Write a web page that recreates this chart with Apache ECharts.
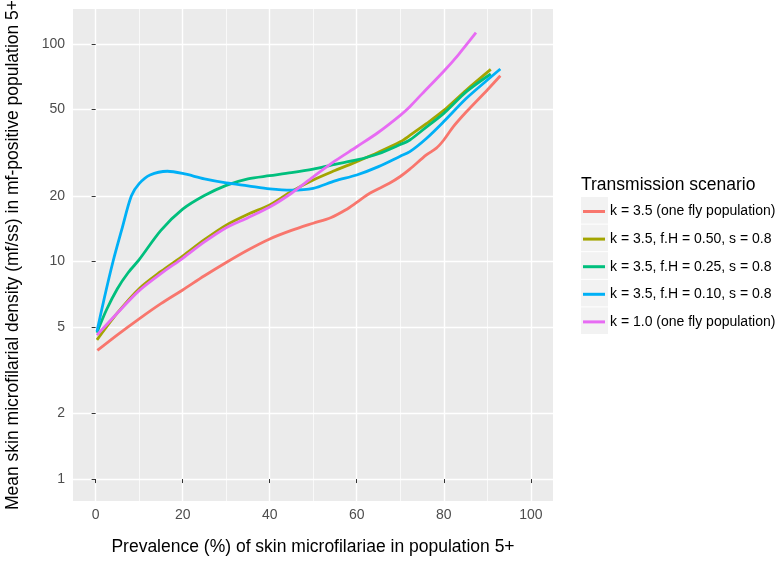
<!DOCTYPE html>
<html lang="en">
<head>
<meta charset="utf-8" />
<title>Skin microfilarial density vs prevalence</title>
<script src="https://cdn.jsdelivr.net/npm/echarts@6/dist/echarts.min.js"></script>
</head>
<body style="margin:0;background:#FFFFFF">
<div id="chart" style="width:777px;height:565px"></div>
<script>
// tick labels
const xTicks = [0, 20, 40, 60, 80, 100]
const xMinor = [10, 30, 50, 70, 90]
const yTicks = [1, 2, 5, 10, 20, 50, 100]

const scenarios = [
    'k = 3.5 (one fly population)',
    'k = 3.5, f.H = 0.50, s = 0.8',
    'k = 3.5, f.H = 0.25, s = 0.8',
    'k = 3.5, f.H = 0.10, s = 0.8',
    'k = 1.0 (one fly population)'
]
const colors = ['#F8766D', '#A3A500', '#00BF7D', '#00B0F6', '#E76BF3']

// [prevalence %, mean density]
const k35OneFly = [[0.4, 3.9], [5, 4.6], [10, 5.45], [15, 6.4], [20, 7.4], [25, 8.6], [30, 9.9], [35, 11.3],
    [40, 12.7], [45, 13.9], [50, 15.0], [54, 15.9], [57.5, 17.3], [60, 18.7], [63, 20.6], [67.5, 22.9],
    [70, 24.6], [72.2, 26.6], [76, 30.9], [78.3, 33.2], [80, 36.2], [82.2, 41.7], [85.2, 48.8], [90, 61.5], [93, 71.5]]
const k35fH050 = [[0.3, 4.36], [5, 5.8], [10, 7.5], [15, 9.0], [20, 10.6], [25, 12.6], [30, 14.7], [35, 16.5],
    [40, 18.2], [45, 21.0], [50, 23.7], [55, 26.2], [60, 28.8], [65, 31.8], [70, 35.5], [72.2, 38],
    [76, 43], [80, 49.5], [85.2, 61.5], [90.8, 76.5]]
const k35fH025 = [[0.3, 4.71], [2.5, 6.0], [5, 7.5], [7.5, 8.9], [10, 10.2], [15, 13.9], [20, 17.4], [25, 20.1],
    [30, 22.4], [35, 24.0], [40, 24.8], [45, 25.6], [50, 26.6], [55, 28.0], [60, 29.3], [65, 31.3],
    [70, 34.5], [72.2, 36.2], [76, 41.5], [80, 48], [85.2, 60.4], [90.8, 72.8]]
const k35fH010 = [[0.3, 4.76], [2, 6.8], [4, 10], [6, 14], [8.2, 20], [10, 22.8], [12.5, 25.0], [16.5, 26.0],
    [20, 25.4], [25, 24.0], [30, 23.0], [35, 22.3], [40, 21.6], [45, 21.3], [50, 21.7], [55, 23.5],
    [60, 25.0], [65, 27.3], [70, 30.5], [72.2, 32], [76, 36.8], [80, 44], [85.2, 56.3], [90, 68.3], [93, 76.8]]
const k10OneFly = [[0.3, 4.59], [5, 5.8], [10, 7.35], [15, 8.8], [20, 10.35], [25, 12.3], [30, 14.3], [35, 15.9],
    [40, 17.8], [45, 20.6], [50, 24.5], [55, 29.0], [60, 33.7], [65, 39.3], [70, 47], [72.2, 51.5],
    [75, 59], [80, 75], [83.3, 89], [87.4, 112.7]]

const seriesData = [k35OneFly, k35fH050, k35fH025, k35fH010, k10OneFly]

const log10 = v => Math.log(v) / Math.LN10
const yTickLogs = yTicks.map(log10)

let chart = echarts.init(document.getElementById('chart'), null, { renderer: 'canvas' })

// grey key backgrounds like ggplot's legend keys
const keyBoxes = scenarios.map((s, i) => ({
    type: 'rect',
    left: 581,
    top: 197 + i * 27.6,
    shape: { width: 27, height: 26.6 },
    style: { fill: '#F2F2F2' },
    silent: true
}))

let option = {
    animation: false,
    color: colors,
    title: {
        text: 'Transmission scenario',
        left: 576,
        top: 171,
        textStyle: { fontFamily: 'Liberation Sans', fontSize: 17.5, fontWeight: 'normal', color: '#000' }
    },
    graphic: keyBoxes,
    legend: {
        orient: 'vertical',
        left: 583,
        top: 204,
        padding: 0,
        itemWidth: 22,
        itemHeight: 3,
        itemGap: 12.6,
        icon: 'rect',
        data: scenarios,
        textStyle: { fontFamily: 'Liberation Sans', fontSize: 14, color: '#000', lineHeight: 15 }
    },
    grid: {
        left: 73, top: 9, width: 480, height: 492,
        show: true, backgroundColor: '#EBEBEB', borderWidth: 0,
        outerBoundsMode: 'none'
    },
    xAxis: [{
        type: 'value',
        min: -5.2, max: 105.1,
        name: 'Prevalence (%) of skin microfilariae in population 5+',
        nameLocation: 'middle',
        nameGap: 37,
        nameTextStyle: { fontFamily: 'Liberation Sans', fontSize: 17.5, color: '#000' },
        axisLine: { show: false },
        axisTick: { show: true, customValues: xTicks, length: 4, lineStyle: { color: '#333333', width: 1 } },
        axisLabel: { customValues: xTicks, margin: 7, fontFamily: 'Liberation Sans', fontSize: 14, color: '#4D4D4D' },
        splitLine: { show: true, lineStyle: { color: '#FFFFFF', width: 1.4 } }
    }, {
        type: 'value',
        min: -5.2, max: 105.1,
        axisLine: { show: false },
        axisTick: { show: false, customValues: xMinor },
        axisLabel: { show: false, customValues: xMinor },
        splitLine: { show: true, lineStyle: { color: '#FFFFFF', width: 0.7 } }
    }],
    yAxis: {
        type: 'value',
        min: -0.101, max: 2.161,
        name: 'Mean skin microfilarial density (mf/ss) in mf-positive population 5+',
        nameLocation: 'middle',
        nameRotate: 90,
        nameGap: 51,
        nameTextStyle: { fontFamily: 'Liberation Sans', fontSize: 17.5, color: '#000' },
        axisLine: { show: false },
        axisTick: { show: true, customValues: yTickLogs, length: 4, lineStyle: { color: '#333333', width: 1 } },
        axisLabel: {
            customValues: yTickLogs, margin: 8,
            fontFamily: 'Liberation Sans', fontSize: 14, color: '#4D4D4D',
            formatter: v => String(Math.round(Math.pow(10, v)))
        },
        splitLine: { show: true, lineStyle: { color: '#FFFFFF', width: 1.4 } }
    },
    series: seriesData.map((d, i) => ({
        name: scenarios[i],
        type: 'line',
        xAxisIndex: 0,
        data: d.map(p => [p[0], log10(p[1])]),
        showSymbol: false,
        smooth: 0.3,
        lineStyle: { width: 2.8, color: colors[i] },
        itemStyle: { color: colors[i] }
    }))
}

chart.setOption(option)
</script>
</body>
</html>
